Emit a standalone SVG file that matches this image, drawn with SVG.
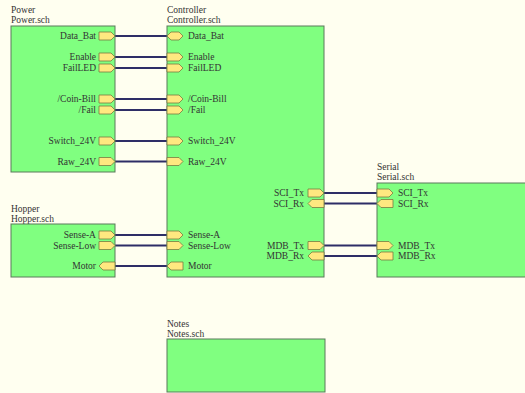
<svg xmlns="http://www.w3.org/2000/svg" xmlns:xlink="http://www.w3.org/1999/xlink" width="525" height="393" viewBox="0 0 525 393">
<style>
.bg{fill:#fffff0}
.box{fill:#80ff80;stroke:#5a7a5a;stroke-width:1}
.port{fill:#ffe880;stroke:#7a7a40;stroke-width:0.8}
.t{font-family:"Liberation Serif",serif;font-size:9.5px;fill:#333333}
.r{text-anchor:end}
.w{stroke:#2e2e66;stroke-width:2;fill:none}
</style>
<defs>
<path id="pR" d="M0,-4 H12 L16,0 L12,4 H0 Z"/>
<path id="pL" d="M0,0 L4,-4 H16 V4 H4 Z"/>
<path id="pB" d="M0,0 L4,-4 H12 L16,0 L12,4 H4 Z"/>
</defs>
<rect class="bg" x="0" y="0" width="525" height="393"/>
<g id="connectors">
<line class="w" x1="115" y1="36" x2="167" y2="36"/>
<line class="w" x1="115" y1="57" x2="167" y2="57"/>
<line class="w" x1="115" y1="68" x2="167" y2="68"/>
<line class="w" x1="115" y1="99" x2="167" y2="99"/>
<line class="w" x1="115" y1="110" x2="167" y2="110"/>
<line class="w" x1="115" y1="141" x2="167" y2="141"/>
<line class="w" x1="115" y1="161.5" x2="167" y2="161.5"/>
<line class="w" x1="115" y1="235" x2="167" y2="235"/>
<line class="w" x1="115" y1="245.5" x2="167" y2="245.5"/>
<line class="w" x1="115" y1="266" x2="167" y2="266"/>
<line class="w" x1="324" y1="193" x2="377" y2="193"/>
<line class="w" x1="324" y1="203.5" x2="377" y2="203.5"/>
<line class="w" x1="324" y1="245.5" x2="377" y2="245.5"/>
<line class="w" x1="324" y1="256" x2="377" y2="256"/>
</g>
<g id="power">
<text class="t" x="11" y="12.5">Power</text>
<text class="t" x="11" y="23">Power.sch</text>
<rect class="box" x="11" y="26" width="104" height="146"/>
<use href="#pR" class="port" x="99" y="36"/>
<use href="#pR" class="port" x="99" y="57"/>
<use href="#pR" class="port" x="99" y="68"/>
<use href="#pR" class="port" x="99" y="99"/>
<use href="#pR" class="port" x="99" y="110"/>
<use href="#pR" class="port" x="99" y="141"/>
<use href="#pR" class="port" x="99" y="161.5"/>
<text class="t r" x="96" y="39">Data_Bat</text>
<text class="t r" x="96" y="60">Enable</text>
<text class="t r" x="96" y="71">FailLED</text>
<text class="t r" x="96" y="102">/Coin-Bill</text>
<text class="t r" x="96" y="113">/Fail</text>
<text class="t r" x="96" y="144">Switch_24V</text>
<text class="t r" x="96" y="164.5">Raw_24V</text>
</g>
<g id="controller">
<text class="t" x="167" y="12.5">Controller</text>
<text class="t" x="167" y="23">Controller.sch</text>
<rect class="box" x="167" y="26" width="157" height="251"/>
<use href="#pB" class="port" x="167" y="36"/>
<use href="#pR" class="port" x="167" y="57"/>
<use href="#pR" class="port" x="167" y="68"/>
<use href="#pR" class="port" x="167" y="99"/>
<use href="#pR" class="port" x="167" y="110"/>
<use href="#pR" class="port" x="167" y="141"/>
<use href="#pR" class="port" x="167" y="161.5"/>
<use href="#pR" class="port" x="167" y="235"/>
<use href="#pR" class="port" x="167" y="245.5"/>
<use href="#pL" class="port" x="167" y="266"/>
<use href="#pR" class="port" x="308" y="193"/>
<use href="#pL" class="port" x="308" y="203.5"/>
<use href="#pR" class="port" x="308" y="245.5"/>
<use href="#pL" class="port" x="308" y="256"/>
<text class="t" x="188" y="39">Data_Bat</text>
<text class="t" x="188" y="60">Enable</text>
<text class="t" x="188" y="71">FailLED</text>
<text class="t" x="188" y="102">/Coin-Bill</text>
<text class="t" x="188" y="113">/Fail</text>
<text class="t" x="188" y="144">Switch_24V</text>
<text class="t" x="188" y="164.5">Raw_24V</text>
<text class="t" x="188" y="238">Sense-A</text>
<text class="t" x="188" y="248.5">Sense-Low</text>
<text class="t" x="188" y="269">Motor</text>
<text class="t r" x="304" y="196">SCI_Tx</text>
<text class="t r" x="304" y="206.5">SCI_Rx</text>
<text class="t r" x="304" y="248.5">MDB_Tx</text>
<text class="t r" x="304" y="259">MDB_Rx</text>
</g>
<g id="hopper">
<text class="t" x="11" y="212">Hopper</text>
<text class="t" x="11" y="221.5">Hopper.sch</text>
<rect class="box" x="11" y="224" width="104" height="53"/>
<use href="#pR" class="port" x="99" y="235"/>
<use href="#pR" class="port" x="99" y="245.5"/>
<use href="#pL" class="port" x="99" y="266"/>
<text class="t r" x="96" y="238">Sense-A</text>
<text class="t r" x="96" y="248.5">Sense-Low</text>
<text class="t r" x="96" y="269">Motor</text>
</g>
<g id="serial">
<text class="t" x="377" y="170">Serial</text>
<text class="t" x="377" y="180">Serial.sch</text>
<rect class="box" x="377" y="183" width="152" height="94"/>
<use href="#pR" class="port" x="377" y="193"/>
<use href="#pL" class="port" x="377" y="203.5"/>
<use href="#pR" class="port" x="377" y="245.5"/>
<use href="#pL" class="port" x="377" y="256"/>
<text class="t" x="398" y="196">SCI_Tx</text>
<text class="t" x="398" y="206.5">SCI_Rx</text>
<text class="t" x="398" y="248.5">MDB_Tx</text>
<text class="t" x="398" y="259">MDB_Rx</text>
</g>
<g id="notes">
<text class="t" x="167" y="327">Notes</text>
<text class="t" x="167" y="337">Notes.sch</text>
<rect class="box" x="167" y="339" width="158" height="53"/>
</g>
</svg>
